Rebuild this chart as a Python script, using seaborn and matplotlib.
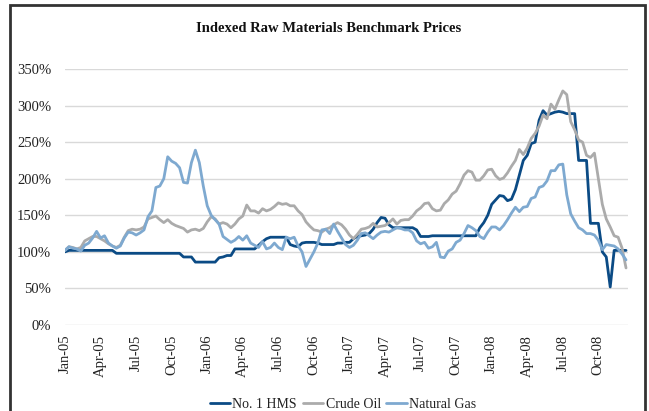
import numpy as np
import pandas as pd
import matplotlib
matplotlib.use("Agg")
import matplotlib.pyplot as plt
import seaborn as sns
from matplotlib.patches import Rectangle
from matplotlib.ticker import FuncFormatter

# ---- data (index values in %, three readings per month from Jan-05) ----
hms = [100, 102, 102, 102, 102, 102, 102, 102, 102, 102, 102, 102,
       102, 98, 98, 98, 98, 98, 98, 98, 98, 98, 98, 98,
       98, 98, 98, 98, 98, 98, 93, 93, 93, 86, 86, 86,
       86, 86, 86, 92, 93, 95, 95, 104, 104, 104, 104, 104,
       104, 109, 114, 118, 120, 120, 120, 120, 120, 110, 108, 107,
       112, 113, 113, 113, 112, 110, 110, 110, 110, 112, 112, 113,
       113, 118, 121, 122, 123, 125, 131, 140, 147, 146, 137, 133,
       133, 133, 133, 133, 133, 130, 121, 121, 121, 122, 122, 122,
       122, 122, 122, 122, 122, 122, 122, 122, 122, 133, 140, 150,
       165, 171, 177, 176, 170, 172, 185, 205, 225, 232, 248, 250,
       280, 293, 287, 289, 291, 292, 291, 289, 289, 289, 225, 225,
       225, 139, 139, 139, 100, 93, 52, 102, 102, 102, 102]

crude_oil = [102, 107, 106, 104, 106, 115, 118, 121, 121, 118, 115, 111,
             108, 106, 109, 120, 129, 131, 130, 131, 134, 145, 147, 149,
             144, 140, 144, 139, 136, 134, 132, 127, 130, 131, 129, 132,
             141, 148, 145, 138, 140, 138, 133, 138, 145, 149, 164, 156,
             156, 153, 159, 156, 158, 162, 167, 165, 166, 163, 163, 156,
             151, 141, 135, 130, 129, 127, 131, 133, 137, 140, 137, 131,
             123, 118, 124, 131, 132, 134, 139, 134, 135, 136, 140, 145,
             138, 143, 144, 144, 149, 156, 160, 166, 167, 159, 156, 157,
             166, 171, 179, 183, 193, 205, 211, 209, 198, 198, 204, 212,
             213, 204, 199, 201, 208, 217, 225, 240, 233, 242, 255, 262,
             272, 287, 282, 302, 295, 308, 320, 315, 278, 267, 253, 250,
             232, 229, 235, 200, 165, 145, 134, 122, 120, 105, 78]

natural_gas = [102, 107, 105, 104, 101, 109, 112, 119, 128, 119, 122, 112,
               108, 105, 108, 119, 127, 126, 123, 126, 130, 148, 156, 188,
               190, 200, 230, 224, 221, 215, 195, 194, 222, 239, 222, 190,
               163, 150, 144, 138, 121, 117, 113, 116, 121, 116, 122, 112,
               109, 106, 114, 104, 106, 112, 106, 103, 120, 118, 120, 108,
               100, 80, 90, 100, 112, 130, 131, 125, 138, 128, 119, 110,
               106, 109, 116, 125, 126, 122, 118, 123, 127, 128, 127, 130,
               133, 132, 130, 130, 126, 115, 111, 113, 105, 107, 113, 93,
               92, 101, 104, 113, 116, 125, 136, 133, 129, 121, 118, 127,
               134, 134, 130, 136, 144, 153, 161, 155, 161, 162, 173, 175,
               188, 190, 197, 211, 211, 219, 220, 178, 152, 142, 133, 130,
               125, 125, 123, 116, 103, 110, 109, 108, 104, 97, 89]

tick_labels = ["Jan-05", "Apr-05", "Jul-05", "Oct-05", "Jan-06", "Apr-06",
               "Jul-06", "Oct-06", "Jan-07", "Apr-07", "Jul-07", "Oct-07",
               "Jan-08", "Apr-08", "Jul-08", "Oct-08"]
series_names = ["No. 1 HMS", "Crude Oil", "Natural Gas"]
colors = ["#0B4B85", "#ABABAB", "#7EA9D0"]

months = np.arange(len(hms)) / 3.0
df = pd.concat([
    pd.DataFrame({"month": months, "value": hms, "series": series_names[0]}),
    pd.DataFrame({"month": months, "value": crude_oil, "series": series_names[1]}),
    pd.DataFrame({"month": months, "value": natural_gas, "series": series_names[2]}),
], ignore_index=True)

sns.set_theme(style="white")
plt.rcParams["font.family"] = ["Liberation Serif", "DejaVu Serif"]

fig = plt.figure(figsize=(6.49, 4.11), dpi=100)
ax = fig.add_axes([65 / 649, 1 - 325 / 411, (628 - 65) / 649, (325 - 69) / 411])

sns.lineplot(data=df, x="month", y="value", hue="series", hue_order=series_names,
             palette=colors, estimator=None, sort=False, linewidth=2.0, ax=ax,
             legend=True)

ax.set_xlim(0, 47.5)
ax.set_ylim(0, 350)
ax.set_yticks(np.arange(0, 351, 50))
ax.yaxis.set_major_formatter(FuncFormatter(lambda v, p: f"{int(v)}%"))
ax.set_xticks(np.arange(0, 46, 3))
ax.set_xticklabels(tick_labels, rotation=90)
ax.tick_params(axis="both", length=0, labelsize=10.5, colors="#222222")
ax.tick_params(axis="y", pad=10)
ax.tick_params(axis="x", pad=7)
ax.grid(axis="y", color="#D9D9D9", linewidth=1)
ax.grid(axis="x", visible=False)
for s in ax.spines.values():
    s.set_visible(False)
ax.set_xlabel("")
ax.set_ylabel("")

leg = ax.legend(loc="center", bbox_to_anchor=(343 / 649, 1 - 404 / 411),
                bbox_transform=fig.transFigure, ncol=3, frameon=False,
                fontsize=10, handlelength=1.5, handletextpad=0.15,
                columnspacing=0.4)
for t in leg.get_texts():
    t.set_color("#222222")

fig.text(329 / 649, 1 - 28 / 411, "Indexed Raw Materials Benchmark Prices",
         ha="center", va="center", fontsize=10.5, fontweight="bold", color="#111111")

fig.patches.append(Rectangle((10 / 649, -0.02), (645 - 10) / 649, 1.02 - 5 / 411,
                             transform=fig.transFigure, fill=False,
                             edgecolor="#333333", linewidth=2.0))

fig.savefig("out.png", dpi=100)
